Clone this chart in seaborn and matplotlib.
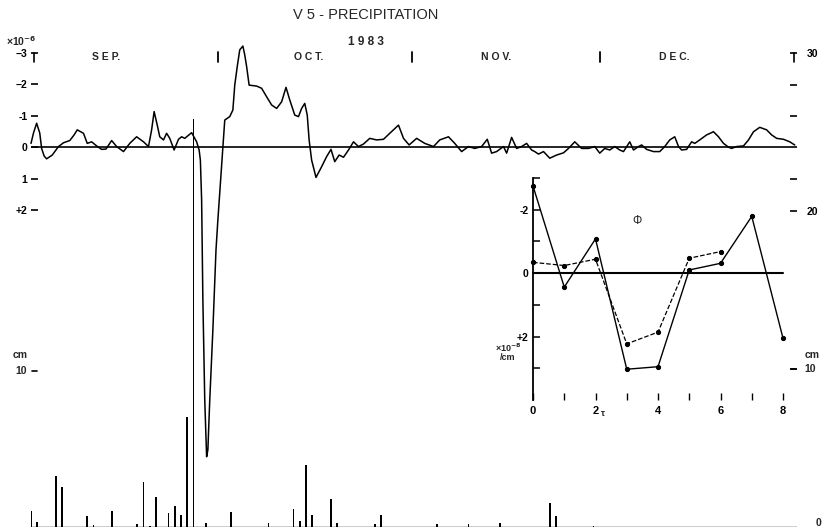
import matplotlib
matplotlib.use("Agg")
import matplotlib.pyplot as plt
import matplotlib.transforms as mtransforms
import seaborn as sns
import numpy as np
import pandas as pd

# ---------------- data ----------------
# strain (x10^-6), time in days since 1 Sep 1983
strain_day = [0.0, 0.4, 0.9, 1.4, 1.7, 2.1, 2.5, 3.4, 4.4, 5.2, 6.2, 6.9, 7.4, 8.4, 9.0, 9.7,
              10.5, 11.3, 12.0, 12.9, 13.7, 14.8, 15.8, 16.9, 18.0, 18.8, 19.3, 19.7, 20.2,
              20.6, 21.2, 21.7, 22.2, 22.9, 23.6, 24.1, 24.6, 25.7, 26.5, 26.9, 27.1, 27.3,
              27.5, 27.8, 28.1, 28.3, 28.6, 29.1, 29.6, 29.9, 30.7, 31.0, 31.8, 32.3, 32.6,
              33.0, 33.4, 33.9, 34.2, 34.5, 34.9, 36.1, 36.9, 37.7, 38.5, 39.3, 40.1, 40.8,
              41.4, 42.2, 42.8, 43.3, 43.8, 44.2, 44.5, 44.9, 45.6, 46.5, 47.3, 48.0, 48.6,
              49.3, 50.0, 50.8, 51.6, 52.4, 53.2, 54.2, 55.3, 56.4, 57.4, 58.8, 59.6, 60.5,
              61.7, 63.0, 64.4, 65.4, 66.8, 67.8, 68.9, 70.0, 71.0, 72.1, 73.0, 73.7, 74.5,
              75.6, 76.1, 76.9, 77.7, 78.5, 79.3, 80.1, 80.6, 81.2, 82.0, 83.0, 84.1, 85.2,
              86.0, 87.0, 88.1, 89.2, 90.2, 91.0, 91.8, 92.6, 93.4, 94.2, 94.8, 95.8, 96.4,
              97.2, 97.7, 98.5, 99.6, 100.6, 101.4, 102.2, 103.0, 103.6, 104.1, 104.9, 105.7,
              106.2, 107.0, 108.1, 109.2, 110.0, 110.8, 111.6, 112.1, 112.9, 114.0, 114.8,
              115.6, 116.6, 117.7, 118.5, 119.3, 120.4, 121.4, 122.2]
strain_val = [-0.13, -0.46, -0.77, -0.46, 0.03, 0.27, 0.36, 0.24, -0.03, -0.15, -0.22, -0.40,
              -0.56, -0.45, -0.13, -0.18, -0.05, 0.06, 0.05, -0.22, -0.03, 0.13, -0.13, -0.34,
              -0.18, -0.03, -0.56, -1.14, -0.71, -0.34, -0.24, -0.45, -0.29, 0.08, -0.26, -0.34,
              -0.29, -0.47, -0.18, 0.08, 0.40, 1.67, 4.84, 8.02, 9.82, 9.60, 8.02, 5.79, 3.25,
              2.30, 0.02, -0.87, -0.98, -1.19, -1.98, -2.57, -3.10, -3.22, -2.94, -2.57, -1.98,
              -1.95, -1.88, -1.61, -1.35, -1.24, -1.45, -1.91, -1.51, -1.03, -0.98, -1.24, -1.40,
              -1.03, -0.24, 0.40, 0.95, 0.61, 0.29, 0.06, 0.45, 0.24, 0.31, 0.08, -0.18, -0.03,
              -0.11, -0.29, -0.24, -0.26, -0.45, -0.71, -0.29, -0.08, -0.29, -0.13, -0.03, -0.24,
              -0.34, -0.13, 0.13, -0.03, 0.03, -0.03, -0.26, 0.18, 0.13, -0.03, 0.18, -0.32, 0.03,
              -0.03, -0.13, 0.08, 0.13, 0.21, 0.13, 0.34, 0.24, 0.17, 0.03, -0.18, 0.03, 0.03,
              -0.03, 0.18, 0.03, 0.08, -0.03, 0.08, 0.13, -0.18, 0.08, -0.03, -0.08, 0.06, 0.13,
              0.13, -0.03, -0.24, -0.34, -0.03, 0.08, 0.06, -0.18, -0.13, -0.24, -0.40, -0.50,
              -0.34, -0.13, -0.01, 0.03, -0.03, -0.05, -0.24, -0.50, -0.64, -0.56, -0.40, -0.29,
              -0.26, -0.18, -0.08]

# daily precipitation (cm)
rain_day = [0, 1, 4, 5, 9, 10, 13, 17, 18, 19, 20, 22, 23, 24, 25, 26, 28, 32, 38, 42, 43,
            44, 45, 48, 49, 55, 56, 65, 70, 75, 83, 84, 90]
rain_cm = [1.0, 0.34, 3.2, 2.55, 0.7, 0.13, 1.0, 0.17, 2.87, 0.08, 1.92, 0.87, 1.33, 0.76,
           6.98, 25.8, 0.23, 0.97, 0.23, 1.14, 0.38, 3.92, 0.76, 1.75, 0.27, 0.17, 0.76, 0.19,
           0.19, 0.27, 1.5, 0.7, 0.06]

# inset: cross-correlation vs lag tau
tau_solid = [0, 1, 2, 3, 4, 5, 6, 7, 8]
phi_solid = [-2.75, 0.44, -1.08, 3.03, 2.95, -0.10, -0.31, -1.79, 2.05]
tau_dash = [0, 1, 2, 3, 4, 5, 6]
phi_dash = [-0.34, -0.24, -0.44, 2.23, 1.86, -0.47, -0.68]

month_names = ["S E P.", "O C T.", "N O V.", "D E C."]
month_label_day = [12.0, 44.5, 74.5, 103.0]
month_start_day = [30, 61, 91]

left_ticks = [-3, -2, -1, 0, 1, 2]
left_ticklabels = ["\u22123", "\u22122", "-1", "0", "1", "+2"]
right_ticks = [10, 20, 22, 26, 28, 30]
right_ticklabels = ["", "20", "", "", "", "30"]
inset_yticks = [-3, -2, -1, 0, 1, 2, 3]
inset_yticklabels = ["", "-2", "", "0", "", "+2", ""]
inset_xticks = [0, 1, 2, 3, 4, 5, 6, 7, 8]
inset_xticklabels = ["0", "", "2", "", "4", "", "6", "", "8"]

# ---------------- style ----------------
sns.set_theme(style="white")
plt.rcParams["font.family"] = ["Liberation Sans", "DejaVu Sans"]
plt.rcParams["font.weight"] = "bold"
plt.rcParams["axes.unicode_minus"] = False

W, H = 826, 532
fig = plt.figure(figsize=(W / 100, H / 100), dpi=100)
fig.patch.set_facecolor("white")


def fx(x):
    return x / W


def fy(y):
    return 1 - y / H


x0, x1, ytop, ybot = 31, 797, 53, 527
ax = fig.add_axes([fx(x0), fy(ybot), (x1 - x0) / W, (ybot - ytop) / H])
ax.set_facecolor("none")
axp = ax.twinx()
axp.set_facecolor("none")

# precipitation bars
sns.histplot(x=rain_day, weights=rain_cm, discrete=True, shrink=0.3, ax=axp,
             color="black", alpha=1, linewidth=0, edgecolor="black")
for p in axp.patches:
    p.set_antialiased(False)
axp.axhline(0, color="black", lw=1.0)

# strain curve
df = pd.DataFrame({"day": strain_day, "strain": strain_val})
sns.lineplot(data=df, x="day", y="strain", ax=ax, color="black", lw=1.1,
             sort=False, estimator=None)
for ln in ax.lines:
    ln.set_clip_on(False)
ax.axhline(0, color="black", lw=1.2)

xmax = (x1 - x0) / 6.25
ax.set_xlim(0, xmax)
axp.set_xlim(0, xmax)
ax.set_ylim(12.05, -3.0)
axp.set_ylim(0, 30)

for a in (ax, axp):
    for s in a.spines.values():
        s.set_visible(False)
    a.set_xlabel("")
    a.set_ylabel("")
    a.set_xticks([])

ax.set_yticks(left_ticks)
ax.set_yticklabels(left_ticklabels)
ax.tick_params(axis="y", left=True, direction="in", length=5, width=1.2, pad=2.5,
               labelsize=7.5, colors="black")
axp.set_yticks(right_ticks)
axp.set_yticklabels(right_ticklabels)
axp.tick_params(axis="y", right=True, left=False, direction="in", length=5, width=1.2,
                pad=7, labelsize=7.5, colors="black")
axp.yaxis.set_ticks_position("right")

# brackets at the corners
ax.plot([0.004, 0.004], [1.0, 0.98], transform=ax.transAxes, color="black", lw=1.2,
        clip_on=False)
ax.plot([0.996, 0.996], [1.0, 0.98], transform=ax.transAxes, color="black", lw=1.2,
        clip_on=False)

# month labels and separators
btr = mtransforms.blended_transform_factory(ax.transData, ax.transAxes)
for d, name in zip(month_label_day, month_names):
    ax.text(d, 0.991, name, transform=btr, ha="center", va="center", fontsize=7.5,
            fontweight="bold")
for d in month_start_day:
    ax.plot([d, d], [1.003, 0.982], transform=btr, color="black", lw=1.3, clip_on=False)

fig.text(fx(366), fy(15), "V 5 - PRECIPITATION", ha="center", va="center", fontsize=10.5,
         fontweight="normal")
fig.text(fx(366), fy(42), "1 9 8 3", ha="center", va="center", fontsize=8.5, fontweight="bold")
fig.text(fx(6), fy(41), "\u00d710$^{-6}$", ha="left", va="center", fontsize=7.5)

# left/right cm labels
fig.text(fx(20), fy(355), "cm", ha="center", va="center", fontsize=7.5)
fig.text(fx(812), fy(355), "cm", ha="center", va="center", fontsize=7.5)
fig.text(fx(27), fy(371), "10", ha="right", va="center", fontsize=7.5)
ptr = mtransforms.blended_transform_factory(axp.transAxes, axp.transData)
axp.plot([0.001, 0.008], [9.85, 9.85], transform=ptr, color="black", lw=1.2, clip_on=False)
fig.text(fx(804), fy(369), "10", ha="left", va="center", fontsize=7.5)
axp.plot([0.992, 0.999], [10, 10], transform=ptr, color="black", lw=1.2, clip_on=False)
fig.text(fx(818), fy(523), "0", ha="center", va="center", fontsize=7.5)

# ---------------- inset ----------------
il, ir, it, ib = 533, 783, 178, 400
axi = fig.add_axes([fx(il), fy(ib), (ir - il) / W, (ib - it) / H])
axi.set_facecolor("none")
sns.lineplot(x=tau_solid, y=phi_solid, ax=axi, color="black", lw=1.0, marker="o",
             markersize=3, markeredgecolor="black", estimator=None)
sns.lineplot(x=tau_dash, y=phi_dash, ax=axi, color="black", lw=0.9, marker="o",
             markersize=3, markeredgecolor="black", estimator=None, linestyle="--")
axi.plot([0, 8], [0, 0], color="black", lw=1.5)
axi.set_xlim(0, 8)
axi.set_ylim(4.0, -3.0)
for k, s in axi.spines.items():
    s.set_visible(k == "left")
axi.spines["left"].set_color("black")
axi.spines["left"].set_linewidth(1.3)
axi.set_yticks(inset_yticks)
axi.set_yticklabels(inset_yticklabels)
axi.set_xticks(inset_xticks)
axi.set_xticklabels(inset_xticklabels)
axi.tick_params(axis="y", left=True, direction="in", length=5, width=1.1, pad=3,
                labelsize=7.5, colors="black")
axi.tick_params(axis="x", bottom=True, direction="in", length=5, width=1.0, pad=4,
                labelsize=8, colors="black")
axi.set_xlabel("")
axi.set_ylabel("")
for c in axi.collections + axi.lines:
    c.set_clip_on(False)
fig.text(fx(637), fy(221), "\u03a6", ha="center", va="center", fontsize=8.5,
         fontweight="normal")
fig.text(fx(603), fy(414), "\u03c4", ha="center", va="center", fontsize=6.5)
fig.text(fx(508), fy(352), "\u00d710$^{-8}$\n/cm", ha="center", va="center", fontsize=6.5,
         linespacing=0.8)

fig.savefig("out.png", dpi=100, facecolor="white")
